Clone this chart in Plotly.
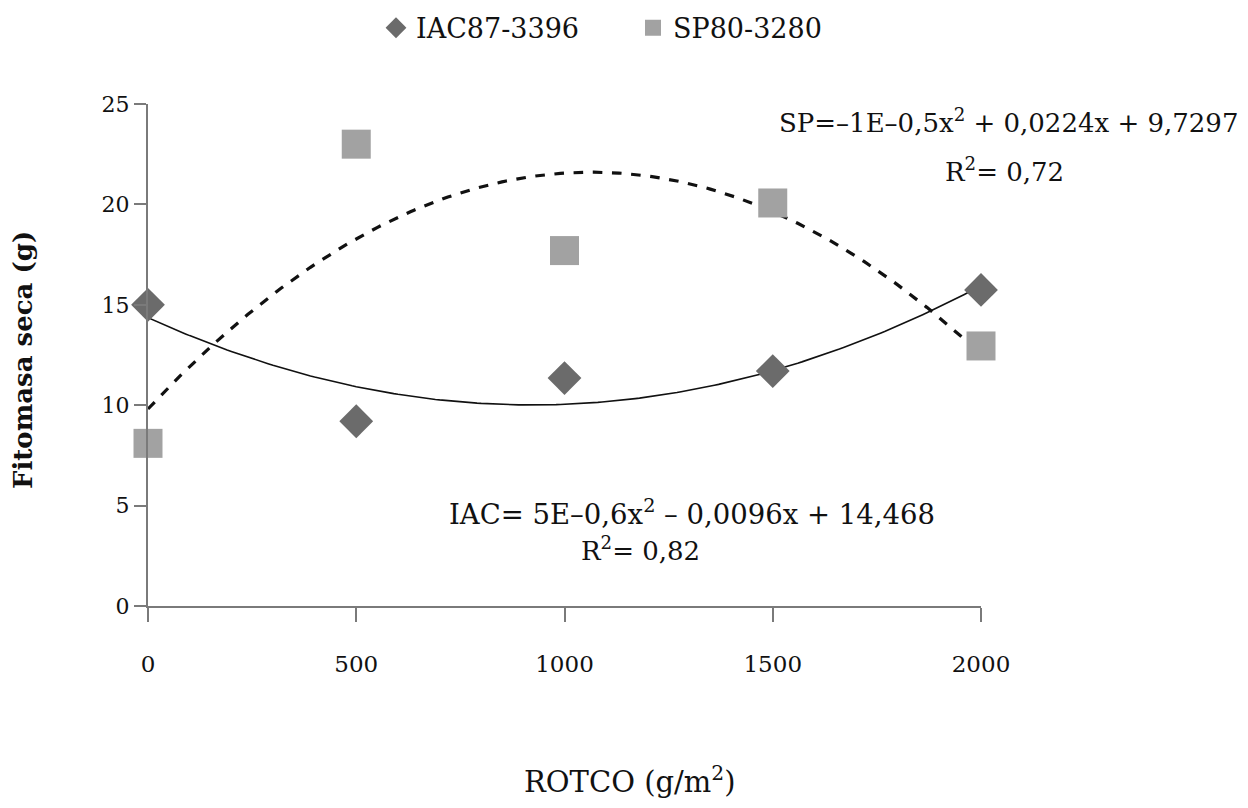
import numpy as np
import plotly.graph_objects as go

# dados
doses = [0, 500, 1000, 1500, 2000]
iac = [15.0, 9.2, 11.35, 11.7, 15.74]
sp = [8.1, 23.0, 17.7, 20.07, 12.95]

x_ticks = [0, 500, 1000, 1500, 2000]
y_ticks = [0, 5, 10, 15, 20, 25]

fonte = "DejaVu Serif"
preto = "#111111"

# linhas de tendência polinomiais (2º grau) ajustadas aos pontos
xx = np.linspace(0, 2000, 201)
iac_fit = np.polyval(np.polyfit(doses, iac, 2), xx)
sp_fit = np.polyval(np.polyfit(doses, sp, 2), xx)

fig = go.Figure()

fig.add_trace(go.Scatter(
    x=xx, y=iac_fit, mode="lines", showlegend=False,
    line=dict(color=preto, width=1.6), hoverinfo="skip",
))
fig.add_trace(go.Scatter(
    x=xx, y=sp_fit, mode="lines", showlegend=False,
    line=dict(color=preto, width=3.2, dash="dash"), hoverinfo="skip",
))
fig.add_trace(go.Scatter(
    x=doses, y=iac, mode="markers", name="IAC87-3396", cliponaxis=False,
    marker=dict(symbol="diamond", size=26, color="#6b6b6b"),
))
fig.add_trace(go.Scatter(
    x=doses, y=sp, mode="markers", name="SP80-3280", cliponaxis=False,
    marker=dict(symbol="square", size=29, color="#a2a2a2"),
))

# a página tem 8 px de margem no body: área do gráfico em 148..981 x 104..606
fig.update_layout(
    width=1248, height=808,
    paper_bgcolor="white", plot_bgcolor="white",
    margin=dict(l=140, r=275, t=96, b=210, autoexpand=False),
    font=dict(family=fonte, color=preto),
    legend=dict(
        orientation="h", x=(376 - 148) / 833, y=0.975, xanchor="left",
        yanchor="middle", yref="container", font=dict(size=27),
        itemsizing="trace", bgcolor="rgba(0,0,0,0)",
        entrywidth=212, entrywidthmode="pixels",
    ),
)

# equações e títulos dos eixos, posicionados em pixels da imagem
textos = [
    ("SP=–1E–0,5x<sup>2</sup> + 0,0224x + 9,7297", 1008, 121, 26, 0),
    ("R<sup>2</sup>= 0,72", 1004, 170, 26, 0),
    ("IAC= 5E–0,6x<sup>2</sup> – 0,0096x + 14,468", 692, 512, 27.5, 0),
    ("R<sup>2</sup>= 0,82", 640, 549, 26, 0),
    ("ROTCO (g/m<sup>2</sup>)", 630, 780, 29, 0),
    ("<b>Fitomasa seca (g)</b>", 23, 360, 26, -90),
]
for txt, px, py, tam, ang in textos:
    fig.add_annotation(
        x=(px - 148) / (981 - 148), y=(606 - py) / (606 - 104),
        xref="paper", yref="paper", showarrow=False, text=txt,
        xanchor="center", yanchor="middle", textangle=ang,
        font=dict(size=tam, color=preto, family=fonte),
    )

fig.update_xaxes(
    range=[0, 2000], tickvals=x_ticks, showgrid=False, zeroline=False,
    showline=True, linecolor="#7a7a7a", linewidth=2, automargin=False,
    ticks="outside", ticklen=14, tickcolor="#7a7a7a", tickwidth=2,
    ticklabelstandoff=22, tickfont=dict(size=23),
)
fig.update_yaxes(
    range=[0, 25], tickvals=y_ticks, showgrid=False, zeroline=False,
    showline=True, linecolor="#7a7a7a", linewidth=2, automargin=False,
    ticks="outside", ticklen=12, tickcolor="#7a7a7a", tickwidth=2,
    tickfont=dict(size=22),
)

fig.write_html("out.html")
